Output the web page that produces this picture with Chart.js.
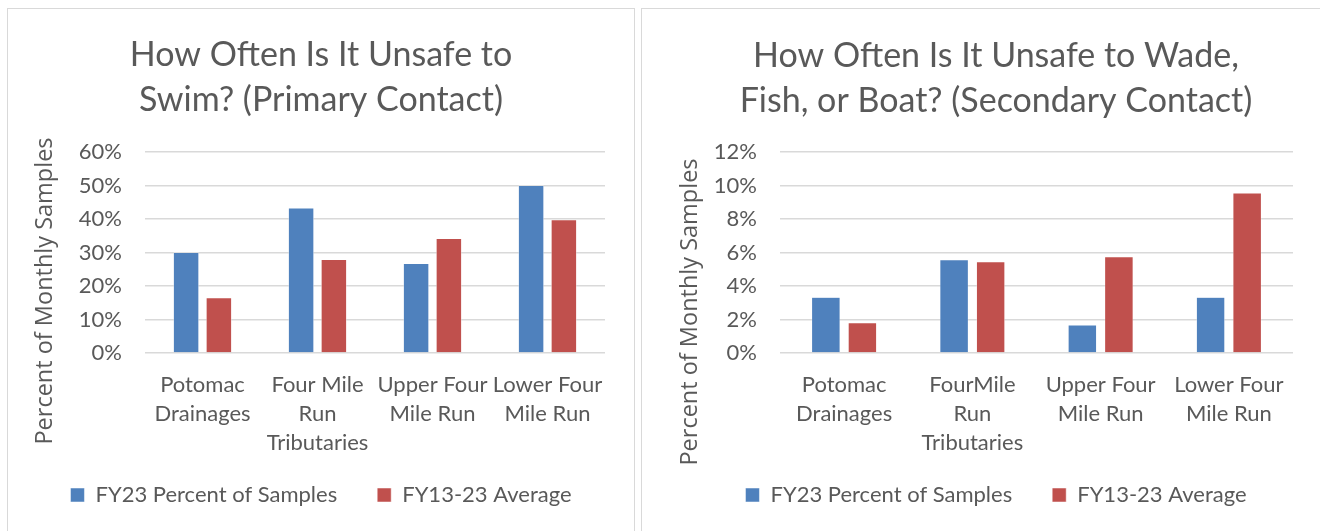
<!DOCTYPE html>
<html>
<head>
<meta charset="utf-8">
<script src="https://cdn.jsdelivr.net/npm/chart.js@4"></script>
<style>
    body { margin: 0; background: #fff; overflow: hidden; }
    .box { position: absolute; top: 8px; height: 560px; border: 1px solid #d9d9d9; background: #fff; }
    #box1 { left: 7px; width: 626px; }
    #box2 { left: 641px; width: 708px; }
    canvas { display: block; }
</style>
</head>
<body>
<div class="box" id="box1"><canvas id="chart_primary" width="626" height="522"></canvas></div>
<div class="box" id="box2"><canvas id="chart_secondary" width="708" height="522"></canvas></div>
<script>
var seriesNames = ["FY23 Percent of Samples", "FY13-23 Average"];

var primaryCategories = [["Potomac", "Drainages"], ["Four Mile", "Run", "Tributaries"], ["Upper Four", "Mile Run"], ["Lower Four", "Mile Run"]];
var primaryFY23 = [30, 43.3, 26.7, 50];
var primaryAverage = [16.5, 27.9, 34.2, 39.8];
var primaryTicks = [0, 10, 20, 30, 40, 50, 60];

var secondaryCategories = [["Potomac", "Drainages"], ["FourMile", "Run", "Tributaries"], ["Upper Four", "Mile Run"], ["Lower Four", "Mile Run"]];
var secondaryFY23 = [3.33, 5.56, 1.67, 3.33];
var secondaryAverage = [1.8, 5.45, 5.75, 9.55];
var secondaryTicks = [0, 2, 4, 6, 8, 10, 12];

var textColor = '#595959';
var mainFont = 'Lato, "Liberation Sans", sans-serif';

// rotated y axis title, Excel puts it a bit lower than the plot centre
var axisTitlePlugin = {
    id: 'axisTitle',
    afterDraw: function (chart, args, opts) {
        var ctx = chart.ctx;
        ctx.save();
        ctx.translate(opts.x, opts.y);
        ctx.rotate(-Math.PI / 2);
        ctx.font = '23.5px "Open Sans", sans-serif';
        ctx.fillStyle = textColor;
        ctx.textAlign = 'center';
        ctx.textBaseline = 'middle';
        ctx.fillText(opts.text, 0, 0);
        ctx.restore();
    }
};

function getChartJs(categories, fy23, average, ticks, title, layout) {
    return {
        type: 'bar',
        data: {
            labels: categories,
            datasets: [{
                label: seriesNames[0],
                data: fy23,
                backgroundColor: '#4F81BD',
                borderColor: '#ffffff',
                borderWidth: 0.5
            }, {
                label: seriesNames[1],
                data: average,
                backgroundColor: '#C0504D',
                borderColor: '#ffffff',
                borderWidth: 0.5
            }]
        },
        options: {
            responsive: false,
            animation: false,
            categoryPercentage: 0.57,
            barPercentage: 0.78,
            layout: { padding: { left: 0, right: 0, top: 0, bottom: 15 } },
            scales: {
                x: {
                    grid: { display: false },
                    border: { display: false },
                    ticks: {
                        color: textColor,
                        padding: 9.5,
                        maxRotation: 0,
                        autoSkip: false,
                        font: { family: mainFont, size: 22, lineHeight: '29px' }
                    },
                    afterFit: function (scale) {
                        scale.height = 91;
                        // third label line runs into the legend band, don't clip it
                        scale._computeLabelArea = function () { return null; };
                    }
                },
                y: {
                    min: ticks[0],
                    max: ticks[ticks.length - 1],
                    afterBuildTicks: function (scale) {
                        scale.ticks = ticks.map(function (v) { return { value: v }; });
                    },
                    grid: { color: '#d9d9d9', lineWidth: 1.6, drawTicks: false },
                    border: { display: false },
                    ticks: {
                        color: textColor,
                        padding: 23,
                        font: { family: mainFont, size: 22 },
                        callback: function (v) { return v + '%'; }
                    },
                    afterFit: function (scale) { scale.width = layout.axisWidth; }
                },
                pad: {
                    position: 'right',
                    grid: { display: false },
                    border: { display: false },
                    ticks: { display: false },
                    afterFit: function (scale) { scale.width = layout.rightPad; }
                }
            },
            plugins: {
                title: {
                    display: true,
                    text: title,
                    color: textColor,
                    font: { family: mainFont, size: 34, weight: 'normal', lineHeight: '45px' },
                    padding: { top: layout.titleTop, bottom: layout.titleBottom }
                },
                legend: {
                    position: 'bottom',
                    labels: {
                        color: textColor,
                        boxWidth: 14,
                        boxHeight: 14,
                        padding: 40,
                        font: { family: mainFont, size: 22 }
                    }
                },
                tooltip: { enabled: false },
                axisTitle: { text: 'Percent of Monthly Samples', x: layout.axisTitleX, y: layout.axisTitleY }
            }
        },
        plugins: [axisTitlePlugin]
    };
}

new Chart(document.getElementById('chart_primary').getContext('2d'),
    getChartJs(primaryCategories, primaryFY23, primaryAverage, primaryTicks,
        ['How Often Is It Unsafe to', 'Swim? (Primary Contact)'],
        { axisWidth: 137, rightPad: 29, titleTop: 23.5, titleBottom: 29.5, axisTitleX: 37.5, axisTitleY: 282 }));

new Chart(document.getElementById('chart_secondary').getContext('2d'),
    getChartJs(secondaryCategories, secondaryFY23, secondaryAverage, secondaryTicks,
        ['How Often Is It Unsafe to Wade,', 'Fish, or Boat? (Secondary Contact)'],
        { axisWidth: 138, rightPad: 57, titleTop: 24.5, titleBottom: 28.5, axisTitleX: 48, axisTitleY: 303 }));
</script>
</body>
</html>
